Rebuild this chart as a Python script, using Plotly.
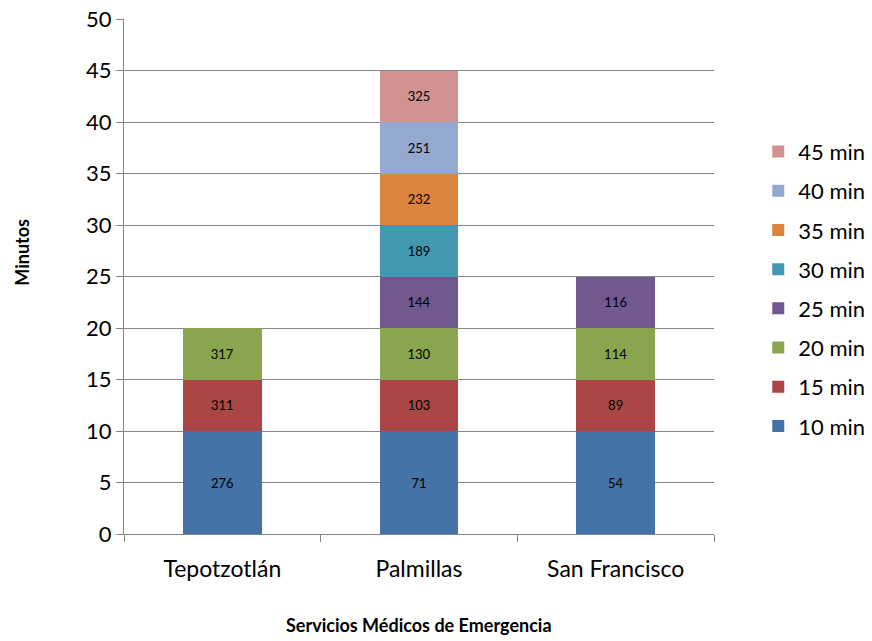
import plotly.graph_objects as go

# Servicios médicos de emergencia y número de casos atendidos por tiempo de llegada
servicios = ["Tepotzotlán", "Palmillas", "San Francisco"]
minutos = [10, 15, 20, 25, 30, 35, 40, 45]
series_labels = ["10 min", "15 min", "20 min", "25 min", "30 min", "35 min", "40 min", "45 min"]

# Casos por servicio en cada rango de tiempo (None = sin registro)
casos_tepotzotlan = [276, 311, 317, None, None, None, None, None]
casos_palmillas = [71, 103, 130, 144, 189, 232, 251, 325]
casos_san_francisco = [54, 89, 114, 116, None, None, None, None]

colores = ["#4572A7", "#AA4643", "#89A54E", "#71588F",
           "#4198AF", "#DB843D", "#93A9CF", "#D19392"]

FONT = "Lato, 'Open Sans', sans-serif"

casos = [casos_tepotzotlan, casos_palmillas, casos_san_francisco]

fig = go.Figure()
prev = 0
for i, (m, name) in enumerate(zip(minutos, series_labels)):
    altura = m - prev  # each segment spans from the previous limit to this one
    prev = m
    xs, ys, txt = [], [], []
    for s, c in zip(servicios, casos):
        if c[i] is not None:
            xs.append(s)
            ys.append(altura)
            txt.append(str(c[i]))
    fig.add_trace(go.Bar(
        x=xs, y=ys, name=name, text=txt,
        textposition="inside", insidetextanchor="middle", textangle=0,
        textfont=dict(size=13, color="#000000", family=FONT),
        marker=dict(color=colores[i], line=dict(width=0)),
        legendgroup=name,
        legendrank=100 - i,  # longest times listed first
        hoverinfo="skip",
    ))

fig.update_layout(
    width=872, height=641,
    barmode="stack",
    bargap=0.6,
    plot_bgcolor="white", paper_bgcolor="white",
    margin=dict(l=124, r=158, t=19, b=107, autoexpand=False),
    font=dict(family=FONT, color="#000000"),
    uniformtext=dict(minsize=13, mode="show"),
    legend=dict(
        traceorder="grouped",
        x=1.075, xanchor="left", y=0.783, yanchor="top",
        font=dict(size=22, family=FONT),
        tracegroupgap=7.6,
        itemwidth=30,
    ),
    showlegend=True,
)

fig.update_xaxes(
    type="category",
    categoryorder="array", categoryarray=servicios,
    tickson="boundaries", ticks="outside", ticklen=7, tickcolor="#868686",
    showline=True, linecolor="#868686", linewidth=1,
    showgrid=False, automargin=False,
    ticklabelstandoff=14,
    tickfont=dict(size=23, family=FONT),
)

fig.update_yaxes(
    range=[0, 50], dtick=5,
    showgrid=True, gridcolor="#868686", gridwidth=1,
    showline=True, linecolor="#868686", linewidth=1,
    ticks="outside", ticklen=7, tickcolor="#868686",
    tickfont=dict(size=22, family=FONT),
    zeroline=False, automargin=False,
)

fig.add_annotation(
    text="<b>Minutos</b>", xref="paper", yref="paper",
    x=-0.173, y=0.548, xanchor="center", yanchor="middle",
    textangle=-90, showarrow=False,
    font=dict(size=18, family=FONT),
)
fig.add_annotation(
    text="<b>Servicios Médicos de Emergencia</b>", xref="paper", yref="paper",
    x=0.5, y=-0.177, xanchor="center", yanchor="middle", showarrow=False,
    font=dict(size=18, family=FONT),
)

fig.write_html("out.html")
